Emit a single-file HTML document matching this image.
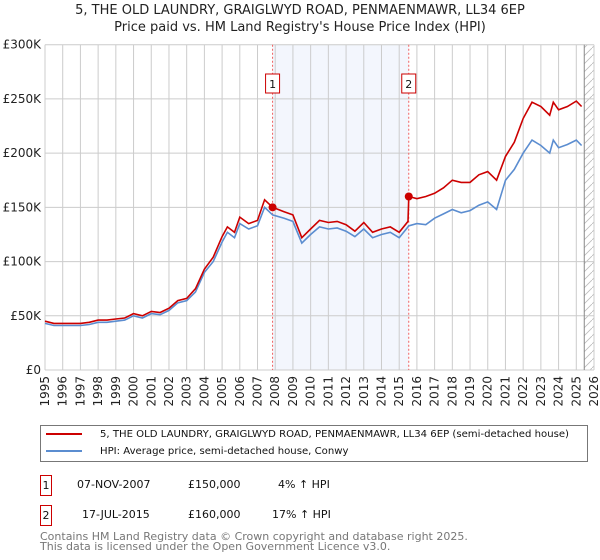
<!DOCTYPE html>
<html><head><meta charset="utf-8"><style>
body{margin:0;width:600px;height:560px;background:#fff;font-family:"DejaVu Sans","Liberation Sans",sans-serif;overflow:hidden;position:relative}
.t{position:absolute;white-space:nowrap}
</style></head><body>
<div class="t" style="left:0;width:600px;text-align:center;top:3px;font-size:13px;color:#222">5, THE OLD LAUNDRY, GRAIGLWYD ROAD, PENMAENMAWR, LL34 6EP</div>
<div class="t" style="left:0;width:600px;text-align:center;top:20px;font-size:13px;color:#222">Price paid vs. HM Land Registry's House Price Index (HPI)</div>
<svg id="chart" width="600" height="420" style="position:absolute;left:0;top:0"></svg>
<div style="position:absolute;left:40px;top:425px;width:546px;height:35px;border:1px solid #777;font-size:10.1px;color:#111">
 <div style="position:absolute;left:5px;top:3px;white-space:nowrap"><span style="display:inline-block;width:36px;height:2px;background:#cc0000;vertical-align:middle;margin-right:18px"></span>5, THE OLD LAUNDRY, GRAIGLWYD ROAD, PENMAENMAWR, LL34 6EP (semi-detached house)</div>
 <div style="position:absolute;left:5px;top:20px;white-space:nowrap"><span style="display:inline-block;width:36px;height:2px;background:#5b8dd0;vertical-align:middle;margin-right:18px"></span>HPI: Average price, semi-detached house, Conwy</div>
</div>
<div style="position:absolute;left:40px;top:475px;font-size:11px;color:#111">
 <span class="t" style="left:0;top:0;width:10px;height:19px;border:1px solid #cc0000;text-align:center;line-height:19px">1</span>
 <span class="t" style="left:37px;top:3px">07-NOV-2007</span>
 <span class="t" style="left:148px;top:3px">£150,000</span>
 <span class="t" style="left:238px;top:3px">4% ↑ HPI</span>
</div>
<div style="position:absolute;left:40px;top:505px;font-size:11px;color:#111">
 <span class="t" style="left:0;top:0;width:10px;height:19px;border:1px solid #cc0000;text-align:center;line-height:19px">2</span>
 <span class="t" style="left:42px;top:3px">17-JUL-2015</span>
 <span class="t" style="left:148px;top:3px">£160,000</span>
 <span class="t" style="left:232px;top:3px">17% ↑ HPI</span>
</div>
<div class="t" style="left:40px;top:532px;font-size:11px;line-height:10px;color:#777">Contains HM Land Registry data © Crown copyright and database right 2025.<br>This data is licensed under the Open Government Licence v3.0.</div>
<script>
const years=[1995,1995.5,1996,1996.5,1997,1997.5,1998,1998.5,1999,1999.5,2000,2000.5,2001,2001.5,2002,2002.5,2003,2003.5,2004,2004.5,2005,2005.3,2005.7,2006,2006.5,2007,2007.4,2007.85,2008.5,2009,2009.5,2010,2010.5,2011,2011.5,2012,2012.5,2013,2013.5,2014,2014.5,2015,2015.5,2015.54,2016,2016.5,2017,2017.5,2018,2018.5,2019,2019.5,2020,2020.5,2021,2021.5,2022,2022.5,2023,2023.5,2023.7,2024,2024.5,2025,2025.3];
const hpiValues=[43,41,41,41,41,42,44,44,45,46,50,48,52,51,55,62,64,72,90,100,118,127,122,135,130,133,150,143,140,137,117,125,132,130,131,128,123,130,122,125,127,122,132,133,135,134,140,144,148,145,147,152,155,148,175,185,200,212,207,200,212,205,208,212,207];
const priceValues=[45,43,43,43,43,44,46,46,47,48,52,50,54,53,57,64,66,75,93,104,123,132,127,141,135,138,157,150,146,143,122,130,138,136,137,134,128,136,127,130,132,127,137,160,158,160,163,168,175,173,173,180,183,175,197,210,232,247,243,235,247,240,243,248,243];
const sales=[[2007.85,150],[2015.54,160]];
const yTicks=[0,50,100,150,200,250,300];
const yTickLabels=["£0","£50K","£100K","£150K","£200K","£250K","£300K"];
const X0=45,X1=594,Y0=370,Y1=44.7;
const xs=y=>X0+(y-1995)*(X1-X0)/31;
const ys=v=>Y0-v*(Y0-Y1)/300;
const svg=document.getElementById('chart');
const NS='http://www.w3.org/2000/svg';
function mk(tag,at,txt){const e=document.createElementNS(NS,tag);for(const k in at)e.setAttribute(k,at[k]);if(txt!==undefined)e.textContent=txt;svg.appendChild(e);return e;}
let e;
e=mk('rect',{x:xs(2007.85),y:Y1,width:xs(2015.54)-xs(2007.85),height:Y0-Y1,fill:'#eef2fc',opacity:0.7});


const defs=mk('defs',{});
const pat=document.createElementNS(NS,'pattern');pat.setAttribute('id','hatch');pat.setAttribute('width','8');pat.setAttribute('height','8');pat.setAttribute('patternUnits','userSpaceOnUse');
const pl=document.createElementNS(NS,'path');pl.setAttribute('d','M0,8 L8,0');pl.setAttribute('stroke','#bbb');pl.setAttribute('stroke-width','0.8');pat.appendChild(pl);defs.appendChild(pat);
e=mk('rect',{x:xs(2025.45),y:Y1,width:X1-xs(2025.45),height:Y0-Y1,fill:'url(#hatch)'});


for(let y=1995;y<=2026;y++){
 e=mk('line',{x1:xs(y),x2:xs(y),y1:Y1,y2:Y0,stroke:'#ccc','stroke-width':1});
 
 
 const tx=xs(y)+4,ty=Y0+6;
 e=mk('text',{x:tx,y:ty,transform:`rotate(-90 ${tx} ${ty})`,'text-anchor':'end','font-size':12,fill:'#222'},String(y));
 
 
}
yTicks.forEach((v,i)=>{
 e=mk('line',{x1:X0,x2:X1,y1:ys(v),y2:ys(v),stroke:'#ccc','stroke-width':1});
 
 
 e=mk('text',{x:X0-4,y:ys(v)+4,'text-anchor':'end','font-size':12,fill:'#222'},yTickLabels[i]);
 
 
});
e=mk('line',{x1:xs(2025.45),x2:xs(2025.45),y1:Y1,y2:Y0,stroke:'#888','stroke-width':1});


sales.forEach((s,i)=>{
 e=mk('line',{x1:xs(s[0]),x2:xs(s[0]),y1:Y1,y2:Y0,stroke:'#f06060','stroke-width':1,'stroke-dasharray':'2,2'});
 
 
 e=mk('rect',{x:xs(s[0])-7,y:74,width:14,height:19,fill:'#fff',stroke:'#cc0000'});
 
 
 e=mk('text',{x:xs(s[0]),y:88,'text-anchor':'middle','font-size':11,fill:'#111'},String(i+1));
 
 
});
const path=vals=>vals.map((v,i)=>(i?'L':'M')+xs(years[i]).toFixed(1)+','+ys(v).toFixed(1)).join(' ');
e=mk('path',{d:path(hpiValues),fill:'none',stroke:'#5b8dd0','stroke-width':1.6});


e=mk('path',{d:path(priceValues),fill:'none',stroke:'#cc0000','stroke-width':1.6});


sales.forEach((s,i)=>{
 e=mk('circle',{cx:xs(s[0]),cy:ys(s[1]),r:4,fill:'#cc0000'});
 
 
});
</script>
</body></html>
